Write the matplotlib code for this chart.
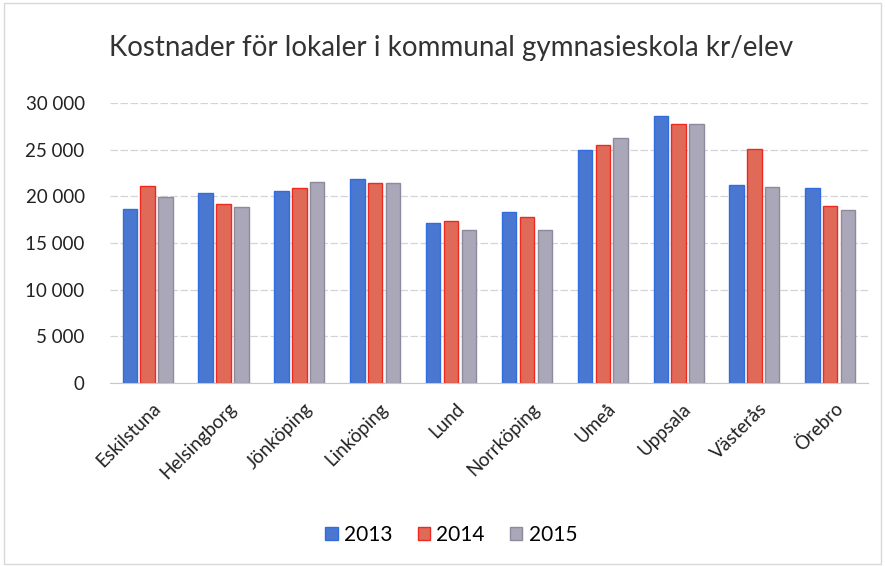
import matplotlib
matplotlib.use("Agg")
import matplotlib.pyplot as plt
import matplotlib.transforms as mtransforms
import numpy as np

plt.rcParams['font.family'] = ['Lato', 'DejaVu Sans']

cities = ['Eskilstuna', 'Helsingborg', 'Jönköping', 'Linköping', 'Lund',
          'Norrköping', 'Umeå', 'Uppsala', 'Västerås', 'Örebro']
y2013 = [18700, 20400, 20600, 21900, 17200, 18300, 25000, 28600, 21200, 20900]
y2014 = [21100, 19200, 20900, 21400, 17400, 17800, 25500, 27700, 25100, 19000]
y2015 = [19900, 18900, 21500, 21400, 16400, 16400, 26300, 27700, 21000, 18500]
years = ['2013', '2014', '2015']
yticks = [0, 5000, 10000, 15000, 20000, 25000, 30000]

fig = plt.figure(figsize=(8.85, 5.66), dpi=100)
ax = fig.add_axes([0.124, 0.323, 0.857, 0.495])

x = np.arange(len(cities))
w = 0.19
off = 0.235
ax.bar(x - off, y2013, w, color='#4a78d0', edgecolor='#2f6de0', linewidth=1, label=years[0])
ax.bar(x, y2014, w, color='#e06a58', edgecolor='#ee2a20', linewidth=1, label=years[1])
ax.bar(x + off, y2015, w, color='#aaa8b8', edgecolor='#8c8a9c', linewidth=1, label=years[2])

ax.set_xlim(-0.5, len(cities) - 0.5)
ax.set_ylim(0, 30000)
ax.set_yticks(yticks)
ax.set_yticklabels(['{:,}'.format(v).replace(',', ' ') for v in yticks], fontsize=13.5,
                   color='#222222')
ax.set_xticks(x)
ax.set_xticklabels(cities, rotation=45, ha='right', rotation_mode='anchor', fontsize=13.5,
                   color='#222222')
ax.tick_params(axis='y', length=0, pad=18)
ax.tick_params(axis='x', length=0, pad=12)
shift = mtransforms.ScaledTranslation(4 / 100, 0, fig.dpi_scale_trans)
for lab in ax.get_xticklabels():
    lab.set_transform(lab.get_transform() + shift)
ax.yaxis.grid(True, color='#d4d4d8', linewidth=0.9, linestyle=(0, (6, 2)))
ax.set_axisbelow(True)
for s in ['top', 'right', 'left']:
    ax.spines[s].set_visible(False)
ax.spines['bottom'].set_color('#c8c8cc')

fig.text(0.51, 0.915, 'Kostnader för lokaler i kommunal gymnasieskola kr/elev',
         ha='center', va='center', fontsize=20, color='#333333')

fig.legend(loc='center', bbox_to_anchor=(0.51, 0.055), ncol=3, frameon=False,
           fontsize=15, handlelength=0.6, handleheight=0.6, handletextpad=0.3,
           columnspacing=1.2)

fig.patches.append(plt.Rectangle((0.004, 0.004), 0.992, 0.99, transform=fig.transFigure,
                                 fill=False, edgecolor='#d8d8d8', linewidth=1))

fig.savefig('out.png', dpi=100)
